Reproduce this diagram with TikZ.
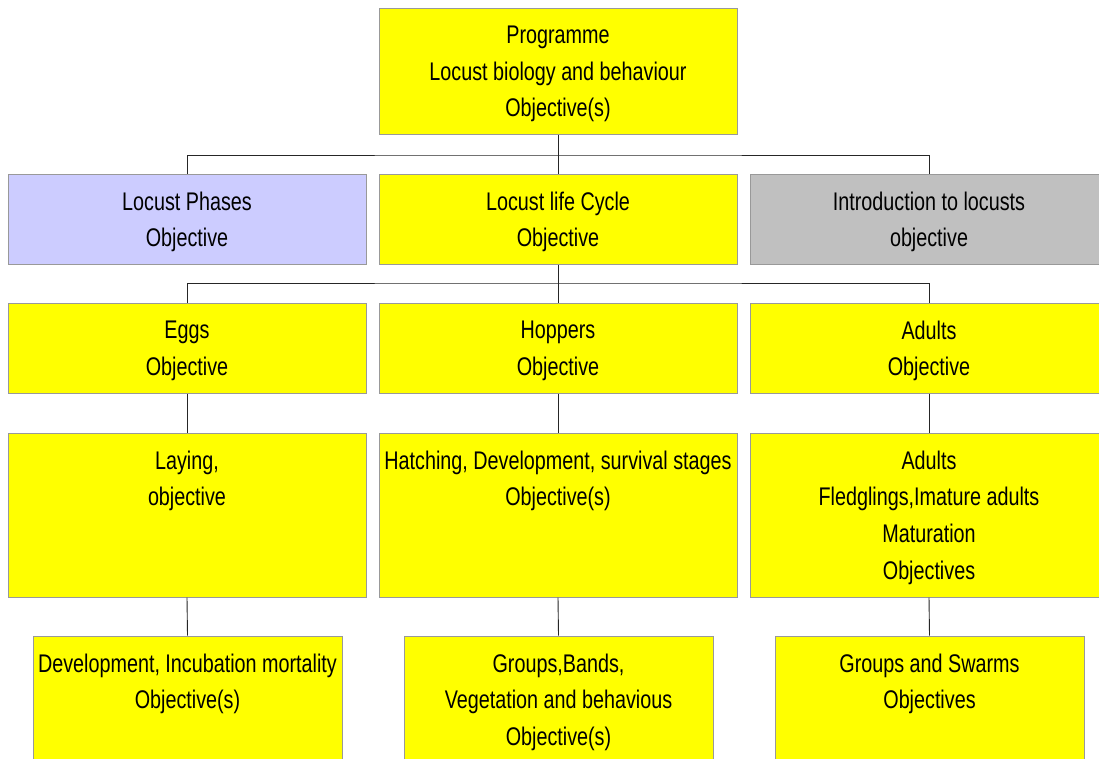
\documentclass[tikz,border=0pt]{standalone}
\usepackage{fontspec}
\setmainfont{Liberation Sans}[FakeStretch=0.775]
\definecolor{boxyellow}{HTML}{FFFF00}
\definecolor{boxlilac}{HTML}{CCCCFF}
\definecolor{boxgrey}{HTML}{C0C0C0}
\definecolor{edgegrey}{HTML}{999999}
\tikzset{
  box/.style={draw=edgegrey, line width=1pt, fill=boxyellow, rectangle,
    inner sep=0pt, minimum width=358pt},
  txt/.style={anchor=north, inner sep=0pt, yshift=-18pt, align=center,
    font=\fontsize{25.5}{36.8}\selectfont,
    execute at begin node={\rule{0pt}{20pt}}},
  link/.style={draw=black!85, line width=0.9pt},
}
\begin{document}
\begin{tikzpicture}[x=1pt, y=-1pt]
\useasboundingbox (0,0) rectangle (1099,758);
\clip (0,0) rectangle (1099,758);
\fill[white] (0,0) rectangle (1099,758);

% programme
\node[box, minimum height=126pt, label={[txt]north:{Programme\\Locust biology and behaviour\\Objective(s)}}] (prog) at (558,71) {};

% second level
\node[box, fill=boxlilac, minimum height=90pt, label={[txt]north:{Locust Phases\\Objective}}] (phases) at (187,219) {};
\node[box, minimum height=90pt, label={[txt]north:{Locust life Cycle\\Objective}}] (cycle) at (558,219) {};
\node[box, fill=boxgrey, minimum height=90pt, label={[txt]north:{Introduction to locusts\\objective}}] (intro) at (929,219) {};

% life cycle stages
\node[box, minimum height=90pt, label={[txt]north:{Eggs\\Objective}}] (eggs) at (187,348) {};
\node[box, minimum height=90pt, label={[txt]north:{Hoppers\\Objective}}] (hoppers) at (558,348) {};
\node[box, minimum height=90pt, label={[txt]north:{Adults\\Objective}}] (adults) at (929,348) {};

% stage details
\node[box, minimum height=164pt, label={[txt]north:{Laying,\\objective}}] (laying) at (187,515) {};
\node[box, minimum height=164pt, label={[txt]north:{Hatching, Development, survival stages\\Objective(s)}}] (hatch) at (558,515) {};
\node[box, minimum height=164pt, label={[txt]north:{Adults\\Fledglings,Imature adults\\Maturation\\Objectives}}] (fledge) at (929,515) {};

% bottom level
\node[box, minimum width=309pt, minimum height=160pt, label={[txt]north:{Development, Incubation mortality\\Objective(s)}}] (incub) at (187.5,716) {};
\node[box, minimum width=309pt, minimum height=160pt, label={[txt]north:{Groups,Bands,\\Vegetation and behavious\\Objective(s)}}] (bands) at (558.5,716) {};
\node[box, minimum width=309pt, minimum height=160pt, label={[txt]north:{Groups and Swarms\\Objectives}}] (swarms) at (929.5,716) {};

% connectors
\coordinate (busA) at (558,155);
\coordinate (busB) at (558,283);
\draw[link] (prog.south) -- (busA);
\draw[link] (phases.north) |- (busA) -| (intro.north);
\draw[link] (busA) -- (cycle.north);
\draw[link] (cycle.south) -- (busB);
\draw[link] (eggs.north) |- (busB) -| (adults.north);
\draw[link] (busB) -- (hoppers.north);
\draw[link] (eggs.south) -- (laying.north);
\draw[link] (hoppers.south) -- (hatch.north);
\draw[link] (adults.south) -- (fledge.north);
\draw[link] (laying.south) -- (incub.north);
\draw[link] (hatch.south) -- (bands.north);
\draw[link] (fledge.south) -- (swarms.north);
\end{tikzpicture}
\end{document}
